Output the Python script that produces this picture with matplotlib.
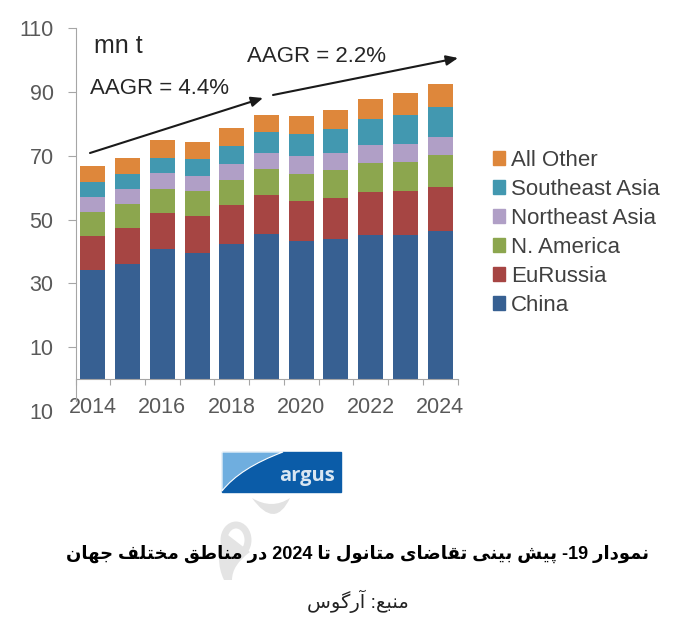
import matplotlib
matplotlib.use("Agg")
import matplotlib.pyplot as plt
import numpy as np
from matplotlib.patches import Rectangle, PathPatch, Patch, Ellipse
from matplotlib.path import Path

years = list(range(2014, 2025))
year_labels = ["2014", "", "2016", "", "2018", "", "2020", "", "2022", "", "2024"]

# stack tops, mn t
china = [34.2, 36.2, 40.8, 39.6, 42.4, 45.5, 43.4, 43.9, 45.2, 45.1, 46.3]
eurussia_top = [44.9, 47.4, 51.9, 51.2, 54.5, 57.8, 55.9, 56.8, 58.5, 58.8, 60.2]
namerica_top = [52.2, 54.7, 59.7, 58.8, 62.3, 65.7, 64.4, 65.5, 67.7, 68.1, 70.1]
neasia_top = [57.0, 59.6, 64.5, 63.5, 67.4, 70.9, 69.8, 70.9, 73.3, 73.8, 75.9]
seasia_top = [61.6, 64.1, 69.4, 68.8, 73.1, 77.5, 76.8, 78.4, 81.4, 82.8, 85.2]
total = [66.9, 69.3, 74.8, 74.2, 78.8, 82.8, 82.3, 84.2, 87.8, 89.7, 92.3]

series_names = ["China", "EuRussia", "N. America", "Northeast Asia", "Southeast Asia", "All Other"]
series_colors = ["#376092", "#A64543", "#8CA64E", "#B09FC6", "#4298B0", "#DE873B"]

ytick_values = [-10, 10, 30, 50, 70, 90, 110]
ytick_labels = ["10", "10", "30", "50", "70", "90", "110"]

title_text = "نمودار 19- پیش بینی تقاضای متانول تا 2024 در مناطق مختلف جهان"
source_text = "منبع: آرگوس"

# isolated, final, initial, medial (right joining letters only have two)
FORMS = {
    "ن": "\uFEE5\uFEE6\uFEE7\uFEE8", "م": "\uFEE1\uFEE2\uFEE3\uFEE4",
    "و": "\uFEED\uFEEE", "د": "\uFEA9\uFEAA", "ا": "\uFE8D\uFE8E",
    "ر": "\uFEAD\uFEAE", "آ": "\uFE81\uFE82",
    "پ": "\uFB56\uFB57\uFB58\uFB59", "ی": "\uFBFC\uFBFD\uFBFE\uFBFF",
    "ش": "\uFEB5\uFEB6\uFEB7\uFEB8", "ب": "\uFE8F\uFE90\uFE91\uFE92",
    "ت": "\uFE95\uFE96\uFE97\uFE98", "ق": "\uFED5\uFED6\uFED7\uFED8",
    "ض": "\uFEBD\uFEBE\uFEBF\uFEC0", "ط": "\uFEC1\uFEC2\uFEC3\uFEC4",
    "خ": "\uFEA5\uFEA6\uFEA7\uFEA8", "ل": "\uFEDD\uFEDE\uFEDF\uFEE0",
    "ف": "\uFED1\uFED2\uFED3\uFED4", "ج": "\uFE9D\uFE9E\uFE9F\uFEA0",
    "ه": "\uFEE9\uFEEA\uFEEB\uFEEC", "ع": "\uFEC9\uFECA\uFECB\uFECC",
    "گ": "\uFB92\uFB93\uFB94\uFB95", "س": "\uFEB1\uFEB2\uFEB3\uFEB4",
}


def shape_farsi(text):
    # matplotlib does no arabic shaping, so pick the joined forms and flip the line
    out = []
    for i, ch in enumerate(text):
        if ch not in FORMS:
            out.append(ch)
            continue
        prev = text[i - 1] if i > 0 else " "
        nxt = text[i + 1] if i + 1 < len(text) else " "
        joins_prev = prev in FORMS and len(FORMS[prev]) == 4
        joins_next = nxt in FORMS and len(FORMS[ch]) == 4
        f = FORMS[ch]
        if joins_prev and joins_next:
            out.append(f[3])
        elif joins_prev:
            out.append(f[1])
        elif joins_next:
            out.append(f[2])
        else:
            out.append(f[0])
    out = out[::-1]
    # digits stay left to right
    i = 0
    while i < len(out):
        if out[i].isdigit():
            j = i
            while j < len(out) and out[j].isdigit():
                j += 1
            out[i:j] = out[i:j][::-1]
            i = j
        else:
            i += 1
    return "".join(out)


W, H = 674, 628
fig = plt.figure(figsize=(W / 100, H / 100), dpi=100)
plt.rcParams["font.family"] = ["Liberation Sans", "DejaVu Sans"]

# overlay in pixel coordinates for the things around the chart
bg = fig.add_axes([0, 0, 1, 1], zorder=0)
bg.set_xlim(0, W)
bg.set_ylim(H, 0)
bg.axis("off")

# faint watermark behind the logo and the caption
crescent = Path([(252, 498), (272, 510), (290, 498), (275, 530), (252, 498)],
                [Path.MOVETO, Path.CURVE3, Path.CURVE3, Path.CURVE3, Path.CURVE3])
bg.add_patch(PathPatch(crescent, facecolor="#e2e2e2", edgecolor="none"))
bg.add_patch(Ellipse((236, 540), 24, 30, facecolor="none", edgecolor="#e4e4e4", lw=5))
tail = Path([(224, 532), (214, 560), (224, 580), (232, 580), (232, 565), (250, 552), (224, 532)],
            [Path.MOVETO, Path.CURVE3, Path.CURVE3, Path.LINETO, Path.CURVE3, Path.CURVE3, Path.CLOSEPOLY])
bg.add_patch(PathPatch(tail, facecolor="#e4e4e4", edgecolor="none"))

ax = fig.add_axes([75.5 / W, 1 - 411 / H, 382 / W, 383 / H], zorder=1)
ax.patch.set_alpha(0)

x = np.arange(len(years))
tops = [china, eurussia_top, namerica_top, neasia_top, seasia_top, total]
bottom = np.zeros(len(years))
handles = []
for name, color, top in zip(series_names, series_colors, tops):
    top = np.array(top)
    ax.bar(x, top - bottom, bottom=bottom, width=0.72, color=color, label=name)
    bottom = top
    handles.append(Patch(color=color, label=name))

ax.set_xlim(-0.5, 10.5)
ax.set_ylim(-10, 110)
for s in ["top", "right"]:
    ax.spines[s].set_visible(False)
ax.spines["bottom"].set_position(("data", 0))
ax.spines["bottom"].set_color("#a6a6a6")
ax.spines["left"].set_color("#a6a6a6")
ax.spines["left"].set_bounds(-7, 110)

ax.set_yticks(ytick_values)
ax.set_yticklabels(ytick_labels, fontsize=15.5, color="#595959")
ax.tick_params(axis="y", length=5.8, color="#a6a6a6", pad=10)
ax.yaxis.get_major_ticks()[0].tick1line.set_visible(False)

ax.set_xticks(np.arange(-0.5, 11, 1))
ax.set_xticklabels([])
ax.set_xticks(x, labels=year_labels, minor=True, fontsize=15.5, color="#595959")
ax.tick_params(axis="x", which="major", length=4.5, color="#a6a6a6")
ax.tick_params(axis="x", which="minor", length=0, pad=13)

# legend, top entry first
fig.legend(handles[::-1], series_names[::-1], loc="upper left",
           bbox_to_anchor=(493 / W, 1 - 150 / H), frameon=False, fontsize=16,
           labelcolor="#404040", handlelength=0.55, handleheight=0.55,
           handletextpad=0.25, labelspacing=0.36, borderpad=0, borderaxespad=0)

# annotations
txt = "#262626"
bg.text(94, 46, "mn t", fontsize=18, color=txt, va="center", zorder=5)
bg.text(90, 88, "AAGR = 4.4%", fontsize=16, color=txt, va="center", zorder=5)
bg.text(247, 56, "AAGR = 2.2%", fontsize=16, color=txt, va="center", zorder=5)
arrow_props = dict(arrowstyle="-|>,head_width=0.3,head_length=0.7", color="#1a1a1a", lw=1.5,
                   shrinkA=0, shrinkB=0)
top_ax = fig.add_axes([0, 0, 1, 1], zorder=3)
top_ax.set_xlim(0, W)
top_ax.set_ylim(H, 0)
top_ax.axis("off")
top_ax.annotate("", xy=(263, 98), xytext=(90, 153), arrowprops=arrow_props)
top_ax.annotate("", xy=(458, 58), xytext=(273, 95), arrowprops=arrow_props)

# argus logo
bg.add_patch(Rectangle((222, 452), 119, 40, color="#0B5CA8", zorder=2))
curve = Path([(222, 452), (222, 491), (240, 468), (283, 452), (222, 452)],
             [Path.MOVETO, Path.LINETO, Path.CURVE3, Path.CURVE3, Path.CLOSEPOLY])
bg.add_patch(PathPatch(curve, facecolor="#6FAEDF", edgecolor="white", lw=0.8, zorder=3))
bg.text(307, 476, "argus", fontsize=14.5, color="#d9e6f2", fontweight="bold", family="Open Sans",
        ha="center", va="center", zorder=4)

# caption
bg.text(358, 554, shape_farsi(title_text), fontsize=13, fontweight="bold", color="black",
        ha="center", va="center", zorder=5)
bg.text(358, 601, shape_farsi(source_text), fontsize=14, color="#222222",
        ha="center", va="center", zorder=5)

fig.savefig("out.png", dpi=100)
